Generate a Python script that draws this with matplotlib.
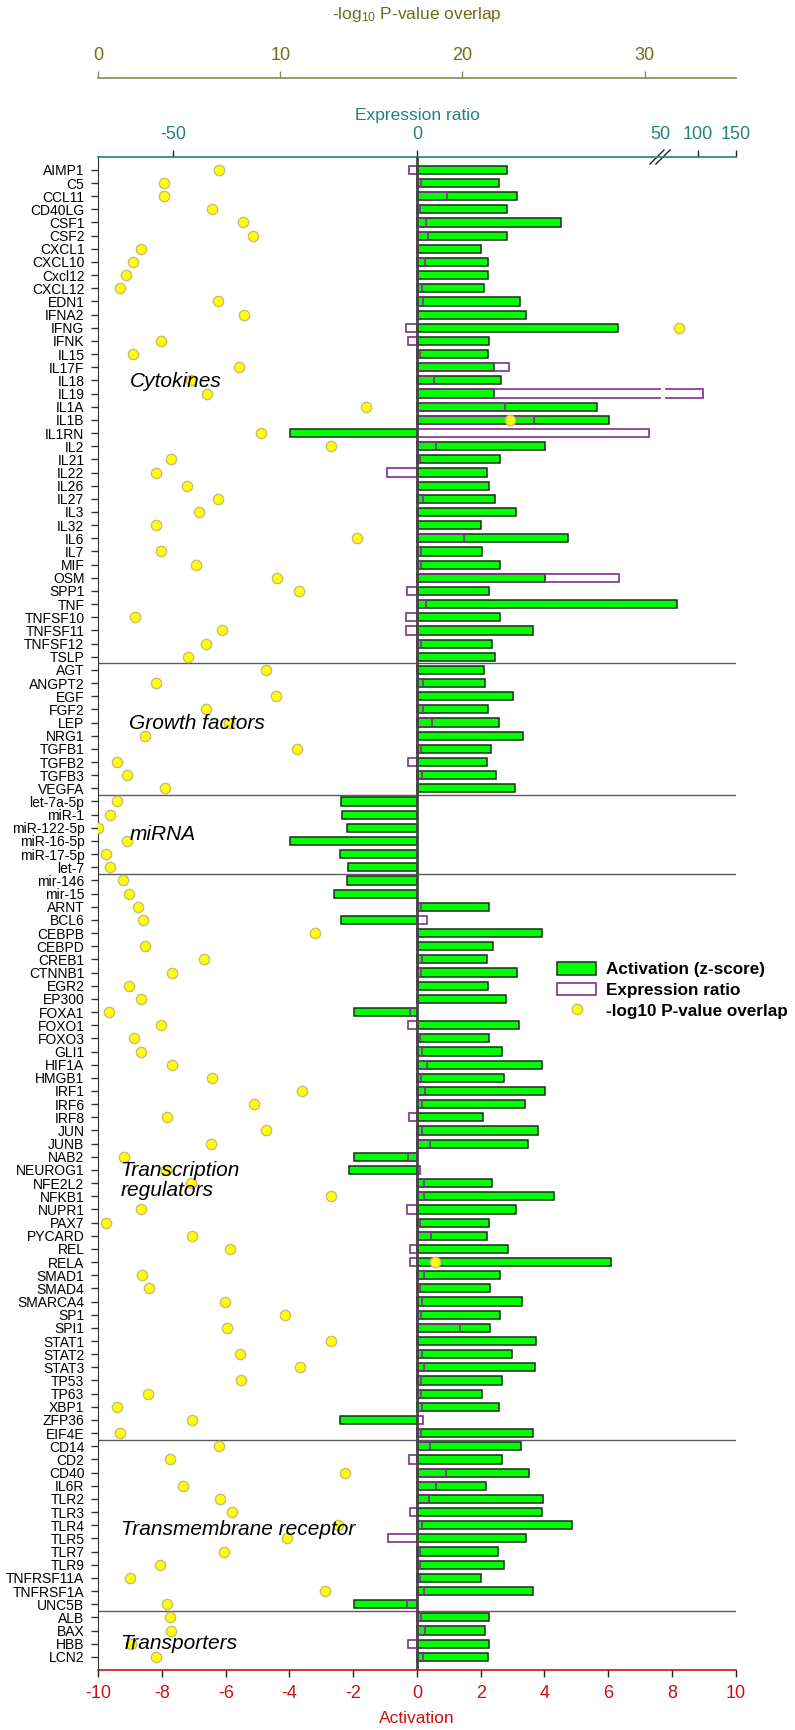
import numpy as np
import matplotlib
matplotlib.use("Agg")
import matplotlib.pyplot as plt
from matplotlib.patches import Patch
from matplotlib.lines import Line2D

plt.rcParams['font.family'] = ['Liberation Sans', 'DejaVu Sans']
plt.rcParams['mathtext.fontset'] = 'custom'
plt.rcParams['mathtext.rm'] = 'Liberation Sans'
plt.rcParams['mathtext.it'] = 'Liberation Sans:italic'

# ---------------- data ----------------
genes = [
    "AIMP1", "C5", "CCL11", "CD40LG", "CSF1", "CSF2", "CXCL1", "CXCL10", "Cxcl12", "CXCL12",
    "EDN1", "IFNA2", "IFNG", "IFNK", "IL15", "IL17F", "IL18", "IL19", "IL1A", "IL1B",
    "IL1RN", "IL2", "IL21", "IL22", "IL26", "IL27", "IL3", "IL32", "IL6", "IL7",
    "MIF", "OSM", "SPP1", "TNF", "TNFSF10", "TNFSF11", "TNFSF12", "TSLP",
    "AGT", "ANGPT2", "EGF", "FGF2", "LEP", "NRG1", "TGFB1", "TGFB2", "TGFB3", "VEGFA",
    "let-7a-5p", "miR-1", "miR-122-5p", "miR-16-5p", "miR-17-5p", "let-7",
    "mir-146", "mir-15", "ARNT", "BCL6", "CEBPB", "CEBPD", "CREB1", "CTNNB1", "EGR2", "EP300",
    "FOXA1", "FOXO1", "FOXO3", "GLI1", "HIF1A", "HMGB1", "IRF1", "IRF6", "IRF8", "JUN",
    "JUNB", "NAB2", "NEUROG1", "NFE2L2", "NFKB1", "NUPR1", "PAX7", "PYCARD", "REL", "RELA",
    "SMAD1", "SMAD4", "SMARCA4", "SP1", "SPI1", "STAT1", "STAT2", "STAT3", "TP53", "TP63",
    "XBP1", "ZFP36", "EIF4E",
    "CD14", "CD2", "CD40", "IL6R", "TLR2", "TLR3", "TLR4", "TLR5", "TLR7", "TLR9",
    "TNFRSF11A", "TNFRSF1A", "UNC5B",
    "ALB", "BAX", "HBB", "LCN2",
]

group_names = ["Cytokines", "Growth factors", "miRNA", "Transcription\nregulators",
               "Transmembrane receptor", "Transporters"]
group_sizes = [38, 10, 6, 43, 13, 4]

activation = [
    2.83, 2.57, 3.14, 2.83, 4.53, 2.82, 2.01, 2.23, 2.24, 2.11,
    3.24, 3.42, 6.31, 2.25, 2.23, 2.41, 2.63, 2.42, 5.64, 6.02,
    -3.97, 4.03, 2.60, 2.20, 2.26, 2.45, 3.10, 2.02, 4.73, 2.03,
    2.62, 4.03, 2.25, 8.17, 2.62, 3.65, 2.37, 2.46,
    2.10, 2.12, 3.02, 2.24, 2.56, 3.32, 2.33, 2.20, 2.48, 3.08,
    -2.37, -2.35, -2.21, -3.99, -2.40, -2.17,
    -2.19, -2.61, 2.25, -2.38, 3.92, 2.39, 2.19, 3.14, 2.23, 2.79,
    -1.99, 3.20, 2.26, 2.66, 3.91, 2.74, 4.03, 3.40, 2.08, 3.81,
    3.47, -1.98, -2.13, 2.35, 4.29, 3.12, 2.25, 2.20, 2.87, 6.09,
    2.62, 2.29, 3.29, 2.62, 2.30, 3.75, 2.97, 3.69, 2.66, 2.03,
    2.58, -2.42, 3.65,
    3.27, 2.66, 3.51, 2.18, 3.95, 3.92, 4.88, 3.41, 2.55, 2.74,
    2.02, 3.63, -1.99,
    2.26, 2.15, 2.26, 2.22,
]

nan = np.nan
expression = [
    -1.6, 0.9, 6.2, 0.6, 1.9, 2.2, 0.3, 1.7, 0.3, 1.0,
    1.2, 0.3, -2.3, -1.85, 0.7, 18.8, 3.4, 107.0, 18.1, 24.0,
    47.6, 4.0, 0.7, -6.2, 0.3, 1.2, 0.3, 0.3, 9.7, 0.75,
    0.75, 41.5, -2.1, 1.85, -2.2, -2.3, 0.9, 0.3,
    0.3, 1.3, 0.3, 1.3, 3.15, 0.3, 0.9, -1.85, 1.1, 0.3,
    nan, nan, nan, nan, nan, nan,
    nan, nan, 0.9, 2.1, 0.3, 0.3, 0.95, 0.75, 0.3, 0.3,
    -1.44, -1.8, 0.7, 1.0, 2.0, 0.75, 1.6, 1.0, -1.6, 1.1,
    2.7, -1.85, 0.55, 1.45, 1.4, -2.05, 0.6, 2.8, -1.45, -1.5,
    1.5, 0.7, 0.95, 0.9, 8.9, 0.3, 1.1, 1.45, 0.75, 0.9,
    0.95, 1.25, 0.85,
    2.6, -1.56, 5.9, 3.85, 2.4, -1.45, 1.05, -6.0, 0.6, 0.6,
    0.6, 1.35, -1.97,
    0.85, 1.56, -1.77, 1.15,
]

pvalue = [
    6.64, 3.6, 3.6, 6.26, 7.93, 8.5, 2.35, 1.93, 1.52, 1.21,
    6.6, 7.98, 31.9, 3.47, 1.93, 7.7, 5.1, 5.98, 14.7, 22.6,
    8.95, 12.8, 4.0, 3.17, 4.88, 6.57, 5.54, 3.19, 14.2, 3.47,
    5.34, 9.8, 11.0, nan, 2.04, 6.8, 5.9, 4.92,
    9.19, 3.17, 9.76, 5.94, 7.2, 2.59, 10.9, 1.05, 1.6, 3.65,
    1.03, 0.66, 0.0, 1.56, 0.4, 0.62,
    1.34, 1.7, 2.17, 2.44, 11.9, 2.57, 5.83, 4.07, 1.69, 2.33,
    0.61, 3.43, 1.98, 2.35, 4.06, 6.26, 11.17, 8.57, 3.76, 9.19,
    6.17, 1.39, 3.72, 5.1, 12.8, 2.35, 0.4, 5.12, 7.25, 18.5,
    2.4, 2.77, 6.95, 10.28, 7.08, 12.8, 7.76, 11.08, 7.83, 2.72,
    1.0, 5.15, 1.2,
    6.63, 3.96, 13.57, 4.63, 6.69, 7.33, 13.15, 10.39, 6.88, 3.4,
    1.73, 12.45, 3.79,
    3.96, 4.01, 1.81, 3.18,
]

act_ticks = [-10, -8, -6, -4, -2, 0, 2, 4, 6, 8, 10]
expr_ticks = [-50, 0, 50, 100, 150]
p_ticks = [0, 10, 20, 30]

# ---------------- styling ----------------
GREEN = "#00FF00"
PURPLE = "#7E2F8E"
YELLOW = "#FFFF00"
DOT_EDGE = "#C9BC7A"
TEAL = "#23817F"
OLIVE_T = "#6E6E1E"
OLIVE_S = "#8A8A4E"
RED = "#CC1111"

# broken expression-ratio scale (linear to 50, compressed above)
BRK_E, BRK_A, ACT_MAX, E_MAX = 50.0, 7.65, 10.0, 150.0
SLOPE = BRK_A / BRK_E


def e2a(e):
    e = np.asarray(e, dtype=float)
    return np.where(e <= BRK_E, e * SLOPE, BRK_A + (e - BRK_E) * (ACT_MAX - BRK_A) / (E_MAX - BRK_E))


def a2e(a):
    a = np.asarray(a, dtype=float)
    return np.where(a <= BRK_A, a / SLOPE, BRK_E + (a - BRK_A) * (E_MAX - BRK_E) / (ACT_MAX - BRK_A))


W, H = 795, 1730
fig = plt.figure(figsize=(W / 100, H / 100), dpi=100)
ax_left, ax_right, ax_top, ax_bot = 98.3, 735.6, 156.7, 1670.0
ax = fig.add_axes([ax_left / W, 1 - ax_bot / H, (ax_right - ax_left) / W, (ax_bot - ax_top) / H])

rows = np.arange(len(genes))
act = np.array(activation)
expr = np.array(expression)
pv = np.array(pvalue)

# activation bars (main axis)
ax.barh(rows, act, height=0.62, color=GREEN, edgecolor="#1E2A1E", linewidth=1.1, zorder=2)
ax.set_xlim(-10, 10)
ax.set_ylim(len(genes), -1)

bounds = np.cumsum(group_sizes)[:-1] - 0.5
for b in bounds:
    ax.axhline(b, color="#5A5A5A", lw=1.0, zorder=1)

ax.set_yticks(rows)
ax.set_yticklabels(genes, fontsize=10)
ax.tick_params(axis="y", length=5, width=1, pad=5, color="#333333")
ax.set_xticks(act_ticks)
ax.set_xticklabels([str(t) for t in act_ticks], fontsize=13, color=RED)
ax.tick_params(axis="x", length=5, width=1, pad=6, color="#222222")
ax.set_xlabel("Activation", fontsize=12.5, color=RED, labelpad=6)
ax.spines["bottom"].set_color(RED)
ax.spines["bottom"].set_linewidth(1.2)
ax.spines["top"].set_visible(False)
ax.spines["right"].set_visible(False)
ax.spines["left"].set_color("#333333")

# expression ratio axis (top, teal)
ax_e = ax.twiny()
ax_e.set_xscale("function", functions=(e2a, a2e))
ax_e.set_xlim(float(a2e(-10)), E_MAX)
ax_e.barh(rows, expr, height=0.62, facecolor="none", edgecolor=PURPLE, linewidth=1.2, zorder=3)
over = expr > BRK_E
ax_e.barh(rows[over], np.full(over.sum(), 6.0), left=BRK_E, height=0.9,
          color="white", edgecolor="none", zorder=3.5)
ax_e.axvline(0, color="#454545", lw=2.0, zorder=4)
ax_e.set_xticks(expr_ticks)
ax_e.set_xticklabels([str(t) for t in expr_ticks], fontsize=13, color=TEAL)
ax_e.tick_params(axis="x", length=5, width=1, pad=5, color="#222222")
for t, v in zip(ax_e.xaxis.get_major_ticks(), expr_ticks):
    if v == BRK_E:
        t.tick2line.set_visible(False)
ax_e.set_xlabel("Expression ratio", fontsize=12.5, color=TEAL, labelpad=4)
for s in ["bottom", "left", "right"]:
    ax_e.spines[s].set_visible(False)
ax_e.spines["top"].set_color(TEAL)
ax_e.spines["top"].set_linewidth(1.2)

# axis-break marks on the teal axis
ax_w = ax_right - ax_left
ax_h = ax_bot - ax_top
def fx(px):
    return (px - ax_left) / ax_w
def fy(py):
    return (ax_bot - py) / ax_h
ax.plot([fx(657), fx(666)], [fy(156.7), fy(156.7)], transform=ax.transAxes,
        color="white", lw=2.5, clip_on=False, zorder=10)
for dx in (0, 6):
    ax.plot([fx(650 + dx), fx(664 + dx)], [fy(164), fy(150)], transform=ax.transAxes,
            color="#222222", lw=1.0, clip_on=False, zorder=11)

# p-value axis (outer top, olive)
ax_p = ax.twiny()
ax_p.set_xlim(0, 35)
ax_p.spines["top"].set_position(("outward", (ax_top - 78.0) * 0.72))
for s in ["bottom", "left", "right"]:
    ax_p.spines[s].set_visible(False)
ax_p.spines["top"].set_color(OLIVE_S)
ax_p.spines["top"].set_linewidth(1.2)
ax_p.set_xticks(p_ticks)
ax_p.set_xticklabels([str(t) for t in p_ticks], fontsize=13, color=OLIVE_T)
ax_p.tick_params(axis="x", length=5, width=1, pad=5, color=OLIVE_S)
ax_p.set_xlabel("-log$_{10}$ P-value overlap", fontsize=12.5, color=OLIVE_T, labelpad=20)
ax_p.scatter(pv, rows, s=55, c=YELLOW, edgecolors=DOT_EDGE, linewidths=1.0, zorder=5)

# group labels (italic)
label_pos = [(-9.02, 16.1), (-9.03, 42.1), (-9.03, 50.5), (-9.30, 76.8), (-9.30, 103.3), (-9.30, 112.0)]
for name, (gx, gy) in zip(group_names, label_pos):
    ax_p.text(gx, gy, name, transform=ax.transData, fontsize=15, fontstyle="italic",
              ha="left", va="center", zorder=8, linespacing=1.05)

# legend
handles = [
    Patch(facecolor=GREEN, edgecolor="#1E2A1E", linewidth=1.1),
    Patch(facecolor="white", edgecolor=PURPLE, linewidth=1.2),
    Line2D([], [], marker="o", linestyle="none", markersize=7.5,
           markerfacecolor=YELLOW, markeredgecolor=DOT_EDGE),
]
labels = ["Activation (z-score)", "Expression ratio", "-log10 P-value overlap"]
leg = ax_p.legend(handles, labels, loc="upper left", bbox_to_anchor=(557 / W, 1 - 962 / H),
                  bbox_transform=fig.transFigure, frameon=False, borderpad=0, borderaxespad=0,
                  handlelength=2.3, handleheight=0.75, handletextpad=0.55, labelspacing=0.32,
                  prop={"size": 12.3, "weight": "bold"})

fig.savefig("out.png", dpi=100)
